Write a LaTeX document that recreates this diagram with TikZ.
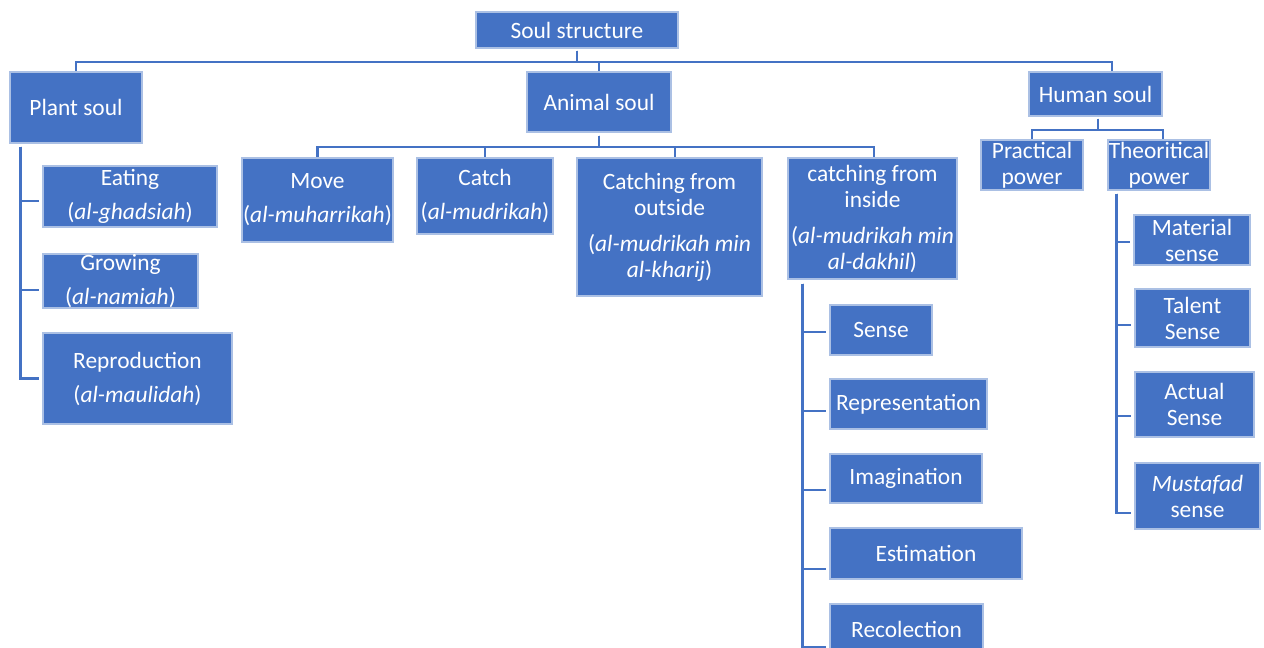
\documentclass[tikz,border=0pt]{standalone}
\usepackage{fontspec}
\setmainfont{Carlito}
\usetikzlibrary{positioning}
\definecolor{soulblue}{HTML}{4472C4}

\begin{document}
\begin{tikzpicture}[x=0.5pt,y=-0.5pt,inner sep=0pt,
  box/.style={rectangle,fill=soulblue,draw=white!55!soulblue,line width=0.6pt,text=white,align=center,
    font=\fontsize{11.7}{13}\selectfont},
  sz/.style 2 args={minimum width=#1*0.5pt,minimum height=#2*0.5pt},
  link/.style={draw=soulblue,line width=1.1pt}]
\useasboundingbox (0,0) rectangle (1264,648);
\node[box,sz={202}{36}] (soul) at (577,30) {Soul structure};
\node[box,sz={132}{71}] (plant) at (76,107.5) {Plant soul};
\node[box,sz={144}{60}] (animal) at (599,102) {Animal soul};
\node[box,sz={133}{44}] (human) at (1095.5,94) {Human soul};
\node[box,sz={174}{61}] (eating) at (130,196.5) {Eating\\[4pt](\textit{al-ghadsiah})};
\node[box,sz={155}{54}] (growing) at (120.5,281) {Growing\\[4pt](\textit{al-namiah})};
\node[box,sz={189}{91}] (reprod) at (137.5,378.5) {Reproduction\\[4pt](\textit{al-maulidah})};
\node[box,sz={151}{84}] (move) at (317.5,200) {Move\\[4pt](\textit{al-muharrikah})};
\node[box,sz={136}{76}] (catch) at (485,196) {Catch\\[4pt](\textit{al-mudrikah})};
\node[box,sz={185}{138}] (outside) at (669.5,227) {Catching from\\outside\\[5pt](\textit{al-mudrikah min}\\\textit{al-kharij})};
\node[box,sz={169}{121}] (inside) at (872.5,218.5) {catching from\\inside\\[5pt](\textit{al-mudrikah min}\\\textit{al-dakhil})};
\node[box,sz={102}{50}] (sense) at (881,330) {Sense};
\node[box,sz={157}{50}] (repres) at (908.5,404) {Representation};
\node[box,sz={152}{49}] (imagin) at (906,478.5) {Imagination};
\node[box,sz={192}{51}] (estim) at (926,553.5) {Estimation};
\node[box,sz={153}{51}] (recol) at (906.5,629.5) {Recolection};
\node[box,sz={102}{50}] (practical) at (1032,165) {Practical\\power};
\node[box,sz={102}{50}] (theor) at (1159,165) {Theoritical\\power};
\node[box,sz={116}{50}] (material) at (1192,240) {Material\\sense};
\node[box,sz={115}{58}] (talent) at (1192.5,318) {Talent\\Sense};
\node[box,sz={119}{65}] (actual) at (1194.5,404.5) {Actual\\Sense};
\node[box,sz={125}{66}] (mustafad) at (1197.5,496) {\textit{Mustafad}\\sense};
\draw[link] ([yshift=-1pt]soul.south) -- ++(0,-5.5pt) -| (plant.north);
\draw[link] ([yshift=-1pt]soul.south) -- ++(0,-5.5pt) -| (animal.north);
\draw[link] ([yshift=-1pt]soul.south) -- ++(0,-5.5pt) -| ([xshift=8.25pt]human.north);
\draw[link] ([yshift=-1.5pt]animal.south) -- ++(0,-5.5pt) -| (move.north);
\draw[link] ([yshift=-1.5pt]animal.south) -- ++(0,-5.5pt) -| (catch.north);
\draw[link] ([yshift=-1.5pt]animal.south) -- ++(0,-5.5pt) -| ([xshift=2.75pt]outside.north);
\draw[link] ([yshift=-1.5pt]animal.south) -- ++(0,-5.5pt) -| ([xshift=0.75pt]inside.north);
\draw[link] ([xshift=1.25pt,yshift=-1pt]human.south) -- ++(0,-5.5pt) -| (practical.north);
\draw[link] ([xshift=1.25pt,yshift=-1pt]human.south) -- ++(0,-5.5pt) -| ([xshift=2pt]theor.north);
\draw[link] ([xshift=5.5pt,yshift=-1.5pt]plant.south west) |- ([xshift=-1.5pt,yshift=-2.25pt]eating.west);
\draw[link] ([xshift=5.5pt,yshift=-1.5pt]plant.south west) |- ([xshift=-1.5pt,yshift=-4.5pt]growing.west);
\draw[link] ([xshift=5.5pt,yshift=-1.5pt]plant.south west) |- ([xshift=-1.5pt]reprod.west);
\draw[link] ([xshift=7.5pt,yshift=-2pt]inside.south west) |- ([xshift=-1.5pt,yshift=-1pt]sense.west);
\draw[link] ([xshift=7.5pt,yshift=-2pt]inside.south west) |- ([xshift=-1.5pt,yshift=-3.5pt]repres.west);
\draw[link] ([xshift=7.5pt,yshift=-2pt]inside.south west) |- ([xshift=-1.5pt,yshift=-5.75pt]imagin.west);
\draw[link] ([xshift=7.5pt,yshift=-2pt]inside.south west) |- ([xshift=-1.5pt,yshift=-7.75pt]estim.west);
\draw[link] ([xshift=7.5pt,yshift=-2pt]inside.south west) |- ([xshift=-1.5pt,yshift=-8.75pt]recol.west);
\draw[link] ([xshift=4.5pt,yshift=-1.5pt]theor.south west) |- ([xshift=-1.5pt,yshift=-1pt]material.west);
\draw[link] ([xshift=4.5pt,yshift=-1.5pt]theor.south west) |- ([xshift=-1.5pt,yshift=-3.5pt]talent.west);
\draw[link] ([xshift=4.5pt,yshift=-1.5pt]theor.south west) |- ([xshift=-1.5pt,yshift=-5.75pt]actual.west);
\draw[link] ([xshift=4.5pt,yshift=-1.5pt]theor.south west) |- ([xshift=-1.5pt,yshift=-8.5pt]mustafad.west);
\end{tikzpicture}
\end{document}
